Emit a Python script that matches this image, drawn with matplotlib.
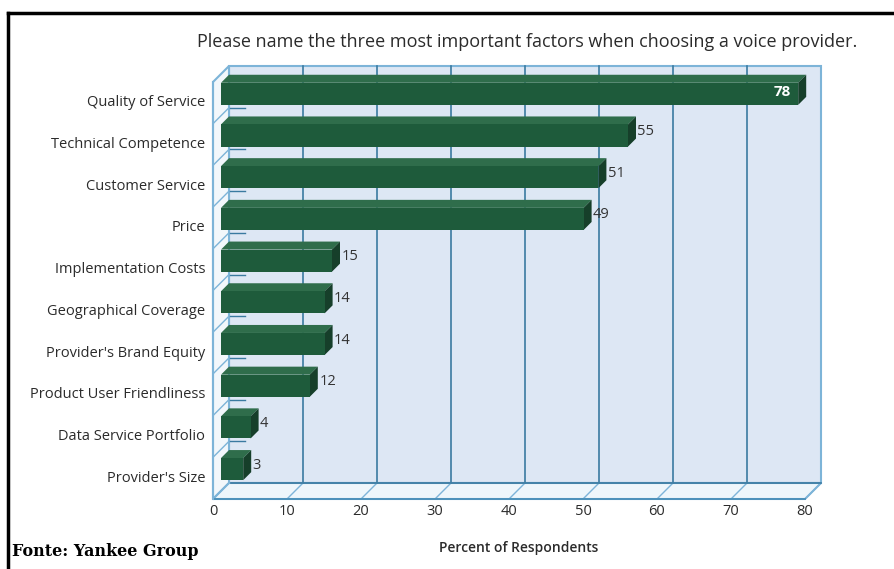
import matplotlib
matplotlib.use("Agg")
import matplotlib.pyplot as plt
from matplotlib.patches import Polygon

categories = ["Quality of Service", "Technical Competence", "Customer Service", "Price",
              "Implementation Costs", "Geographical Coverage", "Provider's Brand Equity",
              "Product User Friendliness", "Data Service Portfolio", "Provider's Size"]
values = [78, 55, 51, 49, 15, 14, 14, 12, 4, 3]
xticks = [0, 10, 20, 30, 40, 50, 60, 70, 80]
title = "Please name the three most important factors when choosing a voice provider."
xlabel = "Percent of Respondents"
source = "Fonte: Yankee Group"

W, H = 895, 569
PX_PER_V = 7.4
PX_PER_C = 41.7
X0, Y0 = 213, 82
DEPTH_PX = 16
DV = DEPTH_PX / PX_PER_V
DC = DEPTH_PX / PX_PER_C
XMAX = 80

plt.rcParams['font.family'] = ['Open Sans', 'DejaVu Sans']
fig = plt.figure(figsize=(W / 100, H / 100), dpi=100)
ax = fig.add_axes([0, 0, 1, 1])
ax.set_xlim(-X0 / PX_PER_V, (W - X0) / PX_PER_V)
ax.set_ylim((H - Y0) / PX_PER_C, -Y0 / PX_PER_C)
ax.axis('off')

def P(v, c, d):
    return (v + d * DV, c - d * DC)

n = len(categories)
wall_edge = '#7db4d8'
grid_col = '#3a7aa0'
text_col = '#2b2b2b'

# back wall
ax.add_patch(Polygon([P(0, 0, 1), P(XMAX, 0, 1), P(XMAX, n, 1), P(0, n, 1)],
                     closed=True, facecolor='#dde7f4', edgecolor=wall_edge, lw=1.5, zorder=1))
# left wall
ax.add_patch(Polygon([P(0, 0, 0), P(0, 0, 1), P(0, n, 1), P(0, n, 0)],
                     closed=True, facecolor='#f2f7fb', edgecolor=wall_edge, lw=1.5, zorder=1))
# floor
ax.add_patch(Polygon([P(0, n, 0), P(XMAX, n, 0), P(XMAX, n, 1), P(0, n, 1)],
                     closed=True, facecolor='#eef6fb', edgecolor=wall_edge, lw=1.5, zorder=1))
# gridlines on back wall and floor diagonals
for t in xticks:
    if 0 < t < XMAX:
        x1, y1 = P(t, 0, 1)
        x2, y2 = P(t, n, 1)
        ax.plot([x1, x2], [y1, y2], color=grid_col, lw=1.2, zorder=2)
    a = P(t, n, 0); b = P(t, n, 1)
    ax.plot([a[0], b[0]], [a[1], b[1]], color=wall_edge, lw=1.0, zorder=2)
a = P(0, n, 1); b = P(XMAX, n, 1)
ax.plot([a[0] + 0.3, b[0]], [a[1], b[1]], color=grid_col, lw=1.2, zorder=2)
a = P(0, n, 0); b = P(XMAX, n, 0)
ax.plot([a[0], b[0]], [a[1], b[1]], color='#4a8fb8', lw=1.3, zorder=2)
# left wall diagonals and small ticks on back wall
for i in range(1, n):
    a = P(0, i, 0); b = P(0, i, 1)
    ax.plot([a[0], b[0]], [a[1], b[1]], color=wall_edge, lw=1.0, zorder=2)
    ax.plot([b[0] + 0.1, b[0] + 2.1], [b[1], b[1]], color=grid_col, lw=1.0, zorder=2)
a = P(0, 0, 0); b = P(0, n, 0)
ax.plot([a[0], b[0]], [a[1], b[1]], color=wall_edge, lw=1.5, zorder=2)

# bars
d0, d1 = 0.5, 1.0
front_col = '#1e5b3b'
top_col = '#2f6d4b'
side_col = '#163f2a'
for i, (cat, v) in enumerate(zip(categories, values)):
    c0, c1 = i + 0.21, i + 0.74
    ax.add_patch(Polygon([P(0, c0, d0), P(0, c0, d1), P(v, c0, d1), P(v, c0, d0)],
                         closed=True, facecolor=top_col, edgecolor='none', zorder=3))
    ax.add_patch(Polygon([P(v, c0, d0), P(v, c0, d1), P(v, c1, d1), P(v, c1, d0)],
                         closed=True, facecolor=side_col, edgecolor='none', zorder=3))
    ax.add_patch(Polygon([P(0, c0, d0), P(v, c0, d0), P(v, c1, d0), P(0, c1, d0)],
                         closed=True, facecolor=front_col, edgecolor='none', zorder=4))
    # value labels
    if v >= 70:
        x, y = P(v, (c0 + c1) / 2, d0)
        ax.text(x - 1.0, y - 0.04, str(v), ha='right', va='center', color='white',
                fontsize=11, fontweight='bold', zorder=5)
    else:
        x, _ = P(v, c0, d1)
        y = ((c0 - d1 * DC) + (c1 - d0 * DC)) / 2
        ax.text(x + 0.2, y, str(v), ha='left', va='center', color='#333333',
                fontsize=10.5, zorder=5)
    # category labels
    ax.text(-1.05, i + 0.5, cat, ha='right', va='center', color=text_col, fontsize=10.5, zorder=5)

# x tick labels
for t in xticks:
    ax.text(t, n + 0.29, str(t), ha='center', va='center', color=text_col, fontsize=10.5)

ax.text(XMAX / 2 + 1.3, n + 1.18, xlabel, ha='center', va='center', color=text_col,
        fontsize=10, fontweight='semibold')
fig.text(527 / W, 1 - 42 / H, title, ha='center', va='center', color=text_col, fontsize=13)
fig.text(12 / W, 1 - 551 / H, source, ha='left', va='center', color='black',
         fontsize=11.5, fontweight='bold', family=['DejaVu Serif', 'Liberation Serif'])

# outer border (top and left)
fig.add_artist(plt.Line2D([8 / W, 1], [1 - 13 / H, 1 - 13 / H], transform=fig.transFigure,
                          color='black', lw=2.5))
fig.add_artist(plt.Line2D([8 / W, 8 / W], [0, 1 - 13 / H], transform=fig.transFigure,
                          color='black', lw=2.5))

fig.savefig('out.png', dpi=100)
